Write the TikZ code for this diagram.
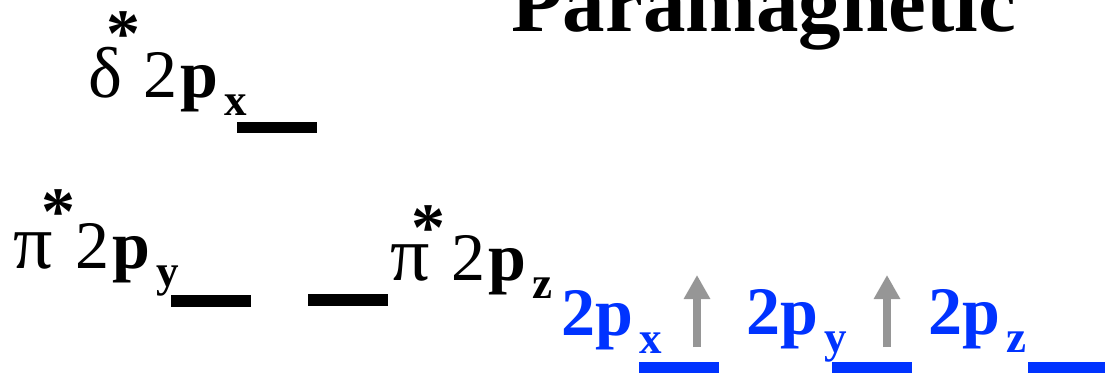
\documentclass[tikz,border=0pt]{standalone}
\usepackage{fontspec}
\setmainfont{Liberation Serif}
\usetikzlibrary{arrows.meta}
\definecolor{orbblue}{RGB}{0,51,255}
\definecolor{spingray}{RGB}{150,150,150}
\newcommand{\bigf}{\fontsize{68}{68}\selectfont}
\newcommand{\greekf}{\fontsize{78}{78}\selectfont}
\newcommand{\deltaf}{\fontsize{72}{72}\selectfont}
\newcommand{\subf}{\fontsize{45}{45}\selectfont\bfseries}
\newcommand{\orbsub}[1]{\hspace{7pt}\raisebox{-18pt}{\subf #1}}
\tikzset{
  lbl/.style={inner sep=0pt, outer sep=0pt, anchor=base west, font=\bigf},
  greek/.style={lbl, font=\greekf},
  astx/.style={inner sep=0pt, outer sep=0pt, anchor=base, font=\bigf\bfseries},
  bluelbl/.style={lbl, text=orbblue, font=\bigf\bfseries},
  levelbar/.style={fill=black},
  bluebar/.style={fill=orbblue},
  spin/.style={draw=spingray, line width=8pt, -{Triangle[width=25pt,length=24pt]}}
}
\begin{document}
\begin{tikzpicture}[x=1pt, y=-1pt]
\useasboundingbox (0,0) rectangle (1105,374);
% title
\node[lbl, font=\fontsize{85}{85}\selectfont\bfseries] (title) at (511,32) {Paramagnetic};
% sigma* level
\node[greek, font=\deltaf] (dlt) at (88,98) {δ};
\node[astx] (dast) at (123,57) {*};
\node[lbl] (dlab) at (143,98) {2\hspace{3pt}\textbf{p}\orbsub{x}};
\fill[levelbar] (237,122) rectangle (317,133);
% pi* levels
\node[greek] (pia) at (13,268) {π};
\node[astx] (piaast) at (58,234) {*};
\node[lbl] (pialab) at (75,268) {2\hspace{3pt}\textbf{p}\orbsub{y}};
\fill[levelbar] (171,295) rectangle (251,307);
\fill[levelbar] (308,294) rectangle (388,306);
\node[greek] (pib) at (390,280) {π};
\node[astx] (pibast) at (428,250) {*};
\node[lbl] (piblab) at (451,280) {2\hspace{3pt}\textbf{p}\orbsub{z}};
% atomic 2p levels
\node[bluelbl] (px) at (561,335) {2p\orbsub{x}};
\fill[bluebar] (639,362) rectangle (719,373);
\coordinate (pxlo) at (697,347);
\coordinate (pxhi) at (697,275);
\draw[spin] (pxlo) -- (pxhi);
\node[bluelbl] (py) at (746,334) {2p\orbsub{y}};
\fill[bluebar] (832,362) rectangle (912,373);
\coordinate (pylo) at (887,347);
\coordinate (pyhi) at (887,275);
\draw[spin] (pylo) -- (pyhi);
\node[bluelbl] (pz) at (928,334) {2p\orbsub{z}};
\fill[bluebar] (1028,362) rectangle (1105,373);
\end{tikzpicture}
\end{document}
